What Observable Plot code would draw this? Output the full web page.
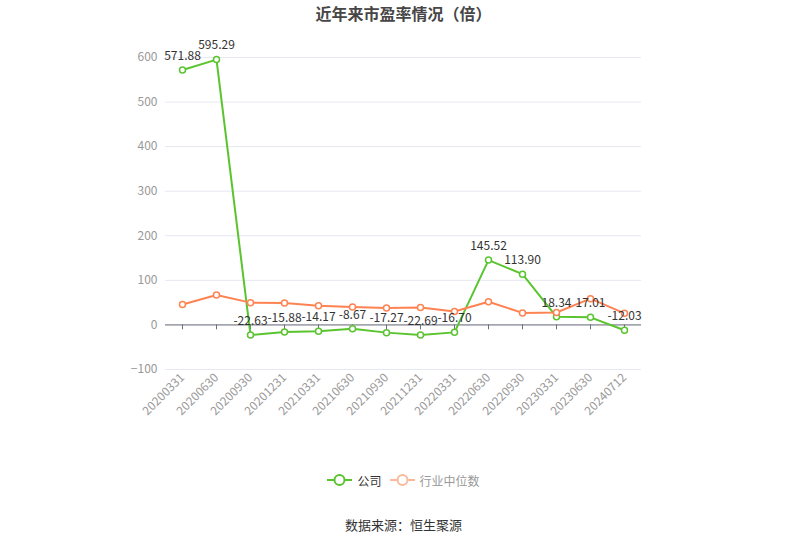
<!DOCTYPE html>
<html>
<head>
<meta charset="utf-8">
<script src="https://cdn.jsdelivr.net/npm/d3@7"></script>
<script src="https://cdn.jsdelivr.net/npm/@observablehq/plot@0.6"></script>
<style>
  body { margin: 0; background: #fff; font-family: "Noto Sans CJK SC", "Noto Sans", sans-serif; }
  #wrap { position: relative; width: 807px; height: 546px; overflow: hidden; }
  #title { position: absolute; left: 0; top: 0; width: 807px; height: 26px; line-height: 26px; text-align: center; font-size: 16px; font-weight: bold; color: #464646; }
  #chart { position: absolute; left: 0; top: 26px; }
  #legend { position: absolute; left: 0; top: 470px; width: 807px; height: 20px; display: flex; justify-content: center; align-items: center; font-size: 12px; }
  #legend .item { display: flex; align-items: center; margin: 0 4px; }
  #legend svg { margin-right: 5px; }
  #source { position: absolute; left: 0; top: 515px; width: 807px; height: 20px; line-height: 20px; text-align: center; font-size: 13px; color: #333; }
</style>
</head>
<body>
<div id="wrap">
  <div id="title">近年来市盈率情况（倍）</div>
  <div id="chart"></div>
  <div id="legend"></div>
  <div id="source">数据来源：恒生聚源</div>
</div>
<script>
const categories = ["20200331","20200630","20200930","20201231","20210331","20210630","20210930","20211231","20220331","20220630","20220930","20230331","20230630","20240712"];
const companyValues = [571.88, 595.29, -22.63, -15.88, -14.17, -8.67, -17.27, -22.69, -16.70, 145.52, 113.90, 18.34, 17.01, -12.03];
const industryValues = [46, 67, 50, 49, 43, 40, 38, 39, 30, 52, 27, 28, 59, 26];
const yTicks = [-100, 0, 100, 200, 300, 400, 500, 600];
const seriesNames = ["公司", "行业中位数"];

const green = "#5ac42f";
const orange = "#ff8352";

const company = categories.map((c, i) => ({cat: c, v: companyValues[i]}));
const industry = categories.map((c, i) => ({cat: c, v: industryValues[i]}));

const chart = Plot.plot({
  width: 807,
  height: 400,
  marginLeft: 165,
  marginRight: 166,
  marginTop: 31,
  marginBottom: 57,
  style: {fontFamily: '"Noto Sans CJK SC", "Noto Sans", sans-serif', fontSize: "12px", background: "#fff"},
  x: {type: "point", domain: categories, padding: 0.5},
  y: {domain: [-100, 600], ticks: yTicks},
  marks: [
    Plot.gridY(yTicks, {stroke: "#e6e8f2", strokeOpacity: 1, strokeWidth: 1}),
    Plot.axisY(yTicks, {tickSize: 0, tickPadding: 8, fill: "#999", fontSize: 12, label: null}),
    Plot.axisX({tickSize: 0, tickPadding: 6, tickRotate: -45, fill: "#999", fontSize: 12, label: null}),
    Plot.ruleY([0], {stroke: "#6e7079", strokeWidth: 1}),
    Plot.ruleX(categories, {x: d => d, y1: 0, y2: -11, stroke: "#6e7079", strokeWidth: 1}),
    Plot.line(company, {x: "cat", y: "v", stroke: green, strokeWidth: 2}),
    Plot.dot(company, {x: "cat", y: "v", r: 3, stroke: green, strokeWidth: 1.5, fill: "#fff"}),
    Plot.line(industry, {x: "cat", y: "v", stroke: orange, strokeWidth: 2}),
    Plot.dot(industry, {x: "cat", y: "v", r: 3, stroke: orange, strokeWidth: 1.5, fill: "#fff"}),
    Plot.text(company, {x: "cat", y: "v", text: d => d.v.toFixed(2), dy: -14, fill: "#333", fontSize: 12, lineAnchor: "middle"})
  ]
});
document.getElementById("chart").appendChild(chart);

const legend = document.getElementById("legend");
const legendColors = [green, "#fbb99b"];
const legendText = ["#333", "#999"];
seriesNames.forEach((name, i) => {
  const item = document.createElement("div");
  item.className = "item";
  item.innerHTML = `<svg width="25" height="14"><line x1="0" y1="7" x2="25" y2="7" stroke="${legendColors[i]}" stroke-width="2"/><circle cx="12.5" cy="7" r="5" fill="#fff" stroke="${legendColors[i]}" stroke-width="2"/></svg><span style="color:${legendText[i]}">${name}</span>`;
  legend.appendChild(item);
});
</script>
</body>
</html>
